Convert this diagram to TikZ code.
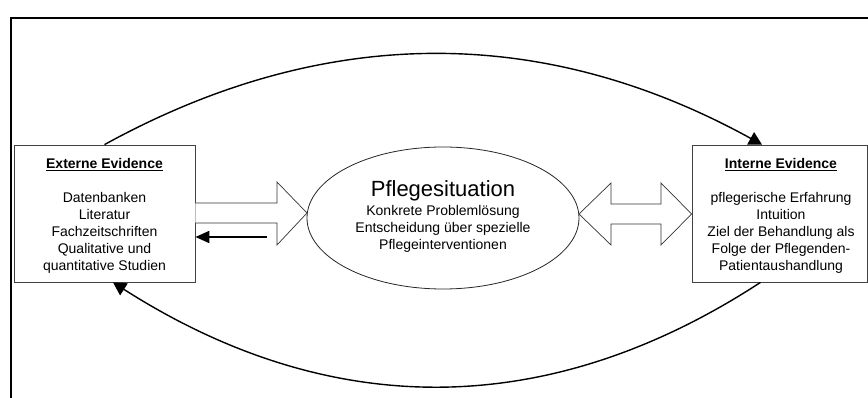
\documentclass[tikz,border=0pt]{standalone}
\usepackage{fontspec}
\setmainfont{Liberation Sans}
\usetikzlibrary{arrows.meta}
\begin{document}
\begin{tikzpicture}[x=1pt,y=-1pt,
  evbox/.style={draw=black!75,line width=0.8pt,rectangle,inner sep=0pt},
  evtext/.style={align=center,inner sep=0pt,anchor=north,font=\fontsize{14}{17}\selectfont},
  blockarrow/.style={draw=black!80,line width=0.7pt,fill=white,line join=miter},
  bigarc/.style={line width=1.4pt,-{Triangle[length=13pt,width=14pt]}},
  smallarrow/.style={line width=2pt,-{Triangle[length=14pt,width=12pt]}}]
\useasboundingbox (0,0) rectangle (868,398);
\clip (0,0) rectangle (868,398);
\fill[white] (0,0) rectangle (868,398);
% outer frame
\draw[line width=1.8pt] (11,405) -- (11,18) -- (875,18);
% boxes
\node[evbox,minimum width=181pt,minimum height=137pt] (ext) at (104.5,213.5) {};
\node[evbox,minimum width=175pt,minimum height=137pt] (int) at (779.5,213.5) {};
\node[evtext] (exttext) at (104.5,158) {\underline{\textbf{Externe Evidence}}\\[17pt]Datenbanken\\Literatur\\Fachzeitschriften\\Qualitative und\\quantitative Studien};
\node[evtext] (inttext) at (781,158) {\underline{\textbf{Interne Evidence}}\\[17pt]pflegerische Erfahrung\\Intuition\\Ziel der Behandlung als\\Folge der Pflegenden-\\Patientaushandlung};
% ellipse
\draw[black!85,line width=0.8pt] (443,218) ellipse [x radius=136, y radius=71];
\node[evtext] (ptext) at (443,180) {{\fontsize{22}{24}\selectfont Pflegesituation}\\[2.5pt]Konkrete Problemlösung\\Entscheidung über spezielle\\Pflegeinterventionen};
\coordinate (pl) at (307,213);
\coordinate (pr) at (579,214);
% left block arrow
\draw[blockarrow] (ext.east |- 0,203) -- (277,203) -- (277,182) -- (pl) -- (277,245) -- (277,223) -- (ext.east |- 0,223);
% right double block arrow
\draw[blockarrow] (pr) -- (611,183) -- (611,204) -- (661,204) -- (661,183) -- (int.west |- 0,214) -- (661,245) -- (661,224) -- (611,224) -- (611,245) -- cycle;
% small arrow
\coordinate (sa) at (267,237);
\draw[smallarrow] (sa) -- (ext.east |- sa);
% arcs
\draw[bigarc] (ext.north) .. controls (324,24) and (543,24) .. ([xshift=-17.5pt]int.north);
\draw[bigarc] ([xshift=-19pt]int.south) .. controls (548,421) and (330,421) .. ([xshift=8.5pt]ext.south);
\end{tikzpicture}
\end{document}
